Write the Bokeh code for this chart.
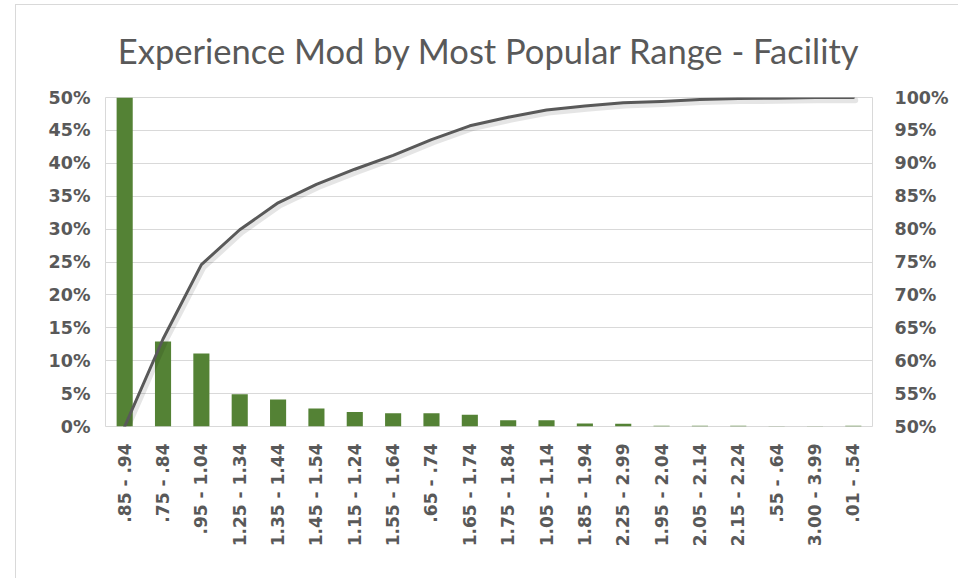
from bokeh.plotting import figure
from bokeh.models import (FactorRange, Range1d, LinearAxis, NumeralTickFormatter,
                          SingleIntervalTicker, ColumnDataSource)
from bokeh.transform import dodge
from bokeh.embed import file_html
from bokeh.resources import INLINE
import math

# Experience-mod ranges, ordered by share of facilities
categories = [".85 - .94", ".75 - .84", ".95 - 1.04", "1.25 - 1.34", "1.35 - 1.44",
              "1.45 - 1.54", "1.15 - 1.24", "1.55 - 1.64", ".65 - .74", "1.65 - 1.74",
              "1.75 - 1.84", "1.05 - 1.14", "1.85 - 1.94", "2.25 - 2.99", "1.95 - 2.04",
              "2.05 - 2.14", "2.15 - 2.24", ".55 - .64", "3.00 - 3.99", ".01 - .54"]

# Share of facilities in each range (%)
share = [50.0, 12.9, 11.1, 4.9, 4.1, 2.75, 2.2, 2.0, 2.0, 1.8,
         0.95, 0.95, 0.45, 0.4, 0.1, 0.1, 0.1, 0.05, 0.05, 0.1]

# Cumulative share (%)
cumulative = [50.0, 63.3, 74.6, 79.9, 84.0, 86.8, 89.1, 91.2, 93.6, 95.7,
              97.0, 98.1, 98.7, 99.2, 99.4, 99.7, 99.85, 99.9, 100.0, 100.0]

GREY = "#595959"
GRID = "#d9d9d9"
GREEN = "#548235"
TICK_FONT = "DejaVu Sans"

src = ColumnDataSource(dict(
    cat=categories,
    share=[v / 100 for v in share],
    cum=[v / 100 for v in cumulative],
    cum_shadow=[v / 100 - 0.004 for v in cumulative],
))

p = figure(width=942, height=573, output_backend="svg", toolbar_location=None,
           x_range=FactorRange(*categories), y_range=Range1d(0, 0.5),
           min_border_left=89, min_border_right=87,
           min_border_top=92, min_border_bottom=153,
           title="Experience Mod by Most Popular Range - Facility")
p.extra_y_ranges = {"cum": Range1d(0.5, 1.0)}

# chart-area border along the top and left edges
p.margin = (4, 0, 0, 15)
p.styles = {"border-left": f"1px solid {GRID}", "border-top": f"1px solid {GRID}",
            "box-sizing": "content-box"}

p.title.align = "center"
p.title.vertical_align = "top"
p.title.text_font = "Lato"
p.title.text_font_size = "34.5px"
p.title.text_font_style = "normal"
p.title.text_color = GREY
p.title.standoff = 49

p.outline_line_color = GRID
p.background_fill_color = "white"
p.border_fill_color = "white"

# bars for each range's share
p.vbar(x="cat", top="share", width=0.42, source=src, fill_color=GREEN, line_color=None)

# soft shadow under the cumulative line
p.line(x=dodge("cat", 0.05, range=p.x_range), y="cum_shadow", source=src,
       y_range_name="cum", line_color="black", line_alpha=0.10, line_width=6,
       line_join="round", line_cap="round")

# cumulative line on the secondary axis
p.line(x="cat", y="cum", source=src, y_range_name="cum",
       line_color=GREY, line_width=3, line_join="round", line_cap="round")

ticker_left = SingleIntervalTicker(interval=0.05)
ticker_right = SingleIntervalTicker(interval=0.05)

p.yaxis.ticker = ticker_left
p.yaxis.formatter = NumeralTickFormatter(format="0%")
p.ygrid.ticker = ticker_left
p.ygrid.grid_line_color = GRID
p.xgrid.grid_line_color = None

right = LinearAxis(y_range_name="cum", ticker=ticker_right,
                   formatter=NumeralTickFormatter(format="0%"))
p.add_layout(right, "right")

for ax in (p.yaxis[0], right):
    ax.axis_line_color = None
    ax.major_tick_line_color = None
    ax.minor_tick_line_color = None
    ax.major_tick_out = 0
    ax.major_tick_in = 0
    ax.major_label_text_font = TICK_FONT
    ax.major_label_text_font_style = "bold"
    ax.major_label_text_font_size = "17.5px"
    ax.major_label_text_color = GREY
p.yaxis[0].major_label_standoff = 11
right.major_label_standoff = 18

xa = p.xaxis[0]
xa.axis_line_color = None
xa.major_tick_line_color = None
xa.major_tick_out = 0
xa.major_tick_in = 0
xa.major_label_orientation = math.pi / 2
xa.major_label_standoff = 17
xa.major_label_text_font = TICK_FONT
xa.major_label_text_font_style = "bold"
xa.major_label_text_font_size = "17px"
xa.major_label_text_color = GREY

open("out.html", "w").write(file_html(p, INLINE))
